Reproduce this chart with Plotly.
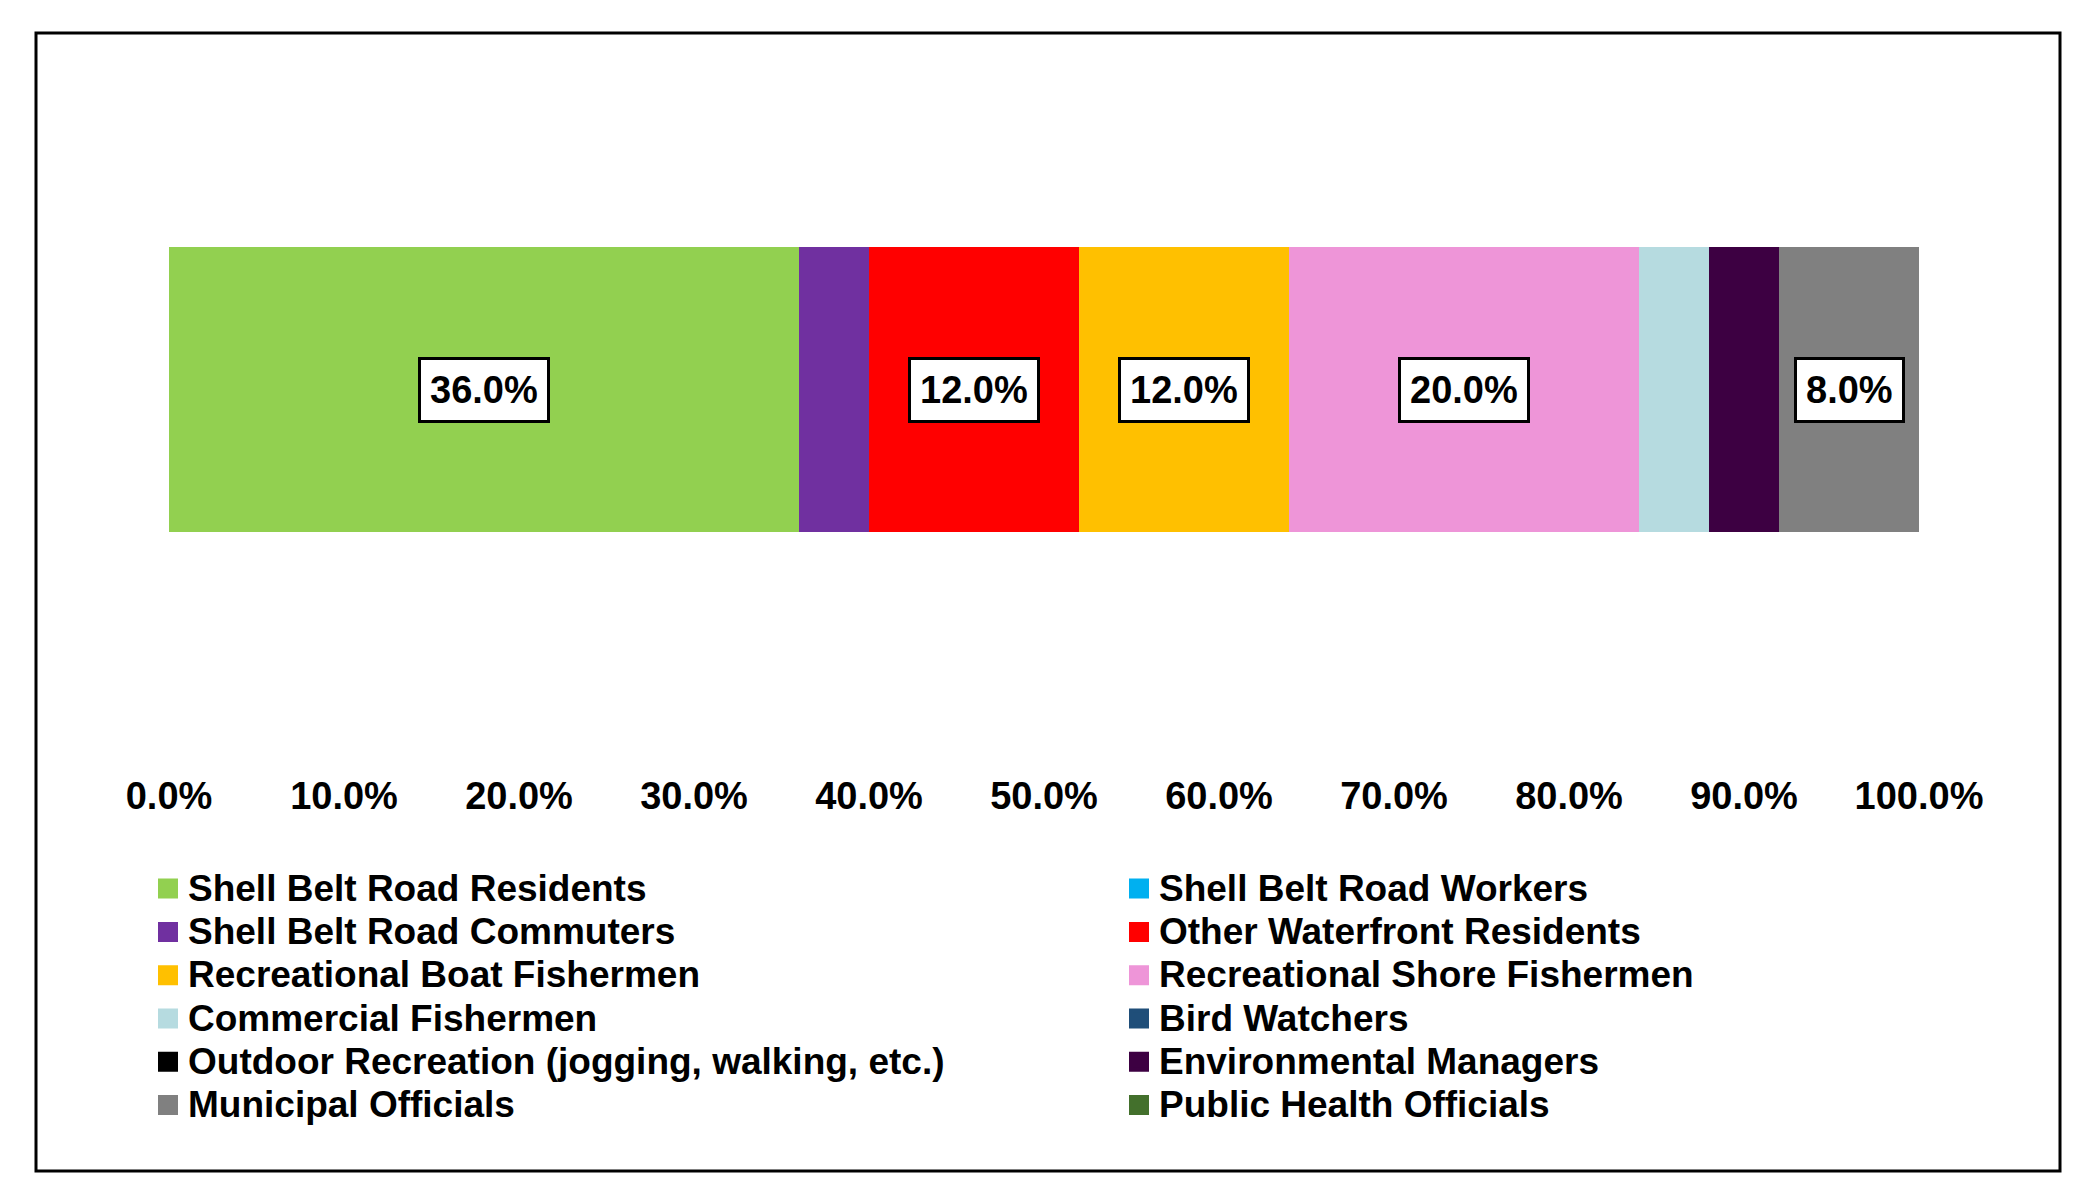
import plotly.graph_objects as go

# ---- data ----
series_names = [
    "Shell Belt Road Residents", "Shell Belt Road Workers",
    "Shell Belt Road Commuters", "Other Waterfront Residents",
    "Recreational Boat Fishermen", "Recreational Shore Fishermen",
    "Commercial Fishermen", "Bird Watchers",
    "Outdoor Recreation (jogging, walking, etc.)", "Environmental Managers",
    "Municipal Officials", "Public Health Officials",
]
series_values = [0.36, 0.00, 0.04, 0.12, 0.12, 0.20, 0.04, 0.00, 0.00, 0.04, 0.08, 0.00]
labeled_series = ["Shell Belt Road Residents", "Other Waterfront Residents",
                  "Recreational Boat Fishermen", "Recreational Shore Fishermen",
                  "Municipal Officials"]
series_colors = ["#92D050", "#00B0F0", "#7030A0", "#FF0000", "#FFC000", "#EE95D8",
                 "#B6DBE0", "#1F4E79", "#000000", "#3D0042", "#808080", "#43702C"]
tick_values = [0.0, 0.1, 0.2, 0.3, 0.4, 0.5, 0.6, 0.7, 0.8, 0.9, 1.0]

FONT = "Liberation Sans, Arial, sans-serif"
# page has an 8px body margin: figure is drawn from (8, 8)
W, H = 2067, 1169
L, R, T, B = 161, 156, 52, 407
PW, PH = W - L - R, H - T - B

fig = go.Figure()
cum = 0.0
annotations = []
for name, val, col in zip(series_names, series_values, series_colors):
    fig.add_trace(go.Bar(
        x=[val], y=[0], base=[cum], orientation="h", name=name,
        marker=dict(color=col, line=dict(width=0)), width=0.4014,
        showlegend=False, hoverinfo="name+x",
    ))
    if name in labeled_series:
        annotations.append(dict(
            x=cum + val / 2, y=0, xref="x", yref="y", text=f"{val*100:.1f}%",
            showarrow=False, bgcolor="white", bordercolor="black", borderwidth=3,
            borderpad=9, font=dict(family=FONT, size=38, color="black", weight="bold"),
        ))
    cum += val

# legend entries (square swatches), two columns filled row by row
for i, (name, col) in enumerate(zip(series_names, series_colors)):
    fig.add_trace(go.Scatter(
        x=[None], y=[None], mode="markers",
        name=f'<span style="font-size:37px">{name}</span>',
        marker=dict(symbol="square", size=16, color=col, line=dict(color=col, width=4)),
        showlegend=True, legend="legend" if i % 2 == 0 else "legend2",
    ))

legend_common = dict(orientation="v", yanchor="top", xanchor="left",
                     itemsizing="trace", tracegroupgap=0, bgcolor="rgba(0,0,0,0)",
                     font=dict(family=FONT, size=31, color="black", weight="bold"))

fig.update_layout(
    width=W, height=H,
    margin=dict(l=L, r=R, t=T, b=B, autoexpand=False),
    paper_bgcolor="white", plot_bgcolor="white",
    barmode="overlay",
    xaxis=dict(range=[0, 1], tickvals=tick_values, tickformat=".1%",
               showgrid=False, zeroline=False, showline=False, ticks="",
               tickfont=dict(family=FONT, size=38, color="black", weight="bold"),
               fixedrange=True),
    yaxis=dict(range=[-0.5359, 0.4641], visible=False, fixedrange=True),
    legend=dict(x=-0.012, y=-0.1295, **legend_common),
    legend2=dict(x=(1111 - L) / PW, y=-0.1295, **legend_common),
    annotations=annotations,
    shapes=[dict(type="rect", xref="paper", yref="paper",
                 x0=(28 - L) / PW, x1=(2052 - L) / PW,
                 y0=(H - B - 1163) / PH, y1=(H - B - 25) / PH,
                 line=dict(color="black", width=3), fillcolor="rgba(0,0,0,0)", layer="below")],
    showlegend=True,
)

fig.write_html("out.html")
